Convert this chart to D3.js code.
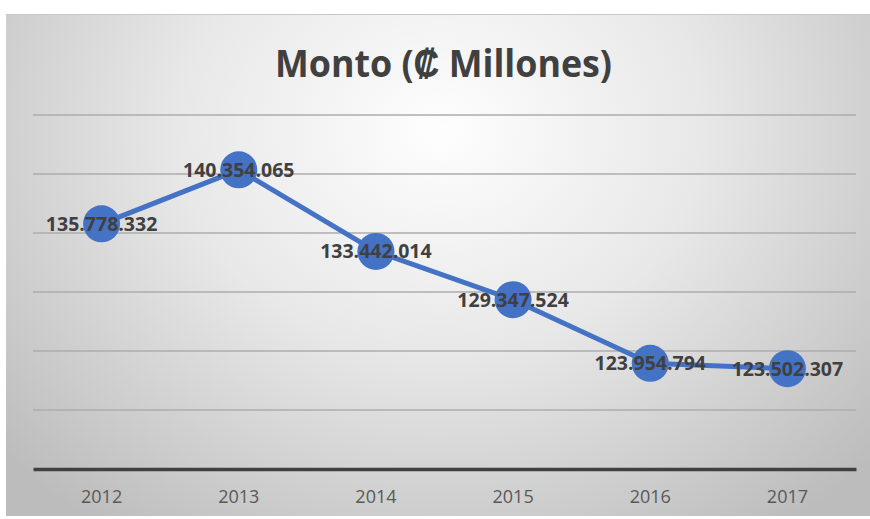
<!DOCTYPE html>
<html><head><meta charset="utf-8">
<script src="https://cdn.jsdelivr.net/npm/d3@7"></script>
<style>html,body{margin:0;padding:0;background:#fff;}svg{display:block;}</style>
</head><body>
<svg id="c" width="870" height="519"></svg>
<script>
const years = ["2012","2013","2014","2015","2016","2017"];
const values = [135.778332, 140.354065, 133.442014, 129.347524, 123.954794, 123.502307];
const valueLabels = ["135.778.332","140.354.065","133.442.014","129.347.524","123.954.794","123.502.307"];
const gridTicks = [115,120,125,130,135,140,145];
const title = "Monto (₡ Millones)";

const svg = d3.select("#c");
const W = 870, H = 519;
const defs = svg.append("defs");
const rg = defs.append("radialGradient").attr("id","bg")
  .attr("gradientUnits","userSpaceOnUse")
  .attr("cx",440).attr("cy",130).attr("r",580)
  .attr("gradientTransform","translate(440,130) scale(1,0.85) translate(-440,-130)");
rg.append("stop").attr("offset","0%").attr("stop-color","#fefefe");
rg.append("stop").attr("offset","45%").attr("stop-color","#e8e8e8");
rg.append("stop").attr("offset","100%").attr("stop-color","#bcbcbc");

svg.append("rect").attr("x",6).attr("y",14).attr("width",W-6).attr("height",502)
  .attr("fill","url(#bg)");
svg.append("line").attr("x1",6).attr("x2",W).attr("y1",14.5).attr("y2",14.5)
  .attr("stroke","#c8c8c8").attr("stroke-width",1);

const plot = {left:33, right:856, top:115, bottom:469};
const x = d3.scaleBand().domain(years).range([plot.left, plot.right]);
const y = d3.scaleLinear().domain([115,145]).range([plot.bottom, plot.top]);

// gridlines
svg.append("g").selectAll("line").data(gridTicks.filter(t=>t>115)).join("line")
  .attr("x1",plot.left).attr("x2",plot.right)
  .attr("y1",d=>y(d)).attr("y2",d=>y(d))
  .attr("stroke","#acacac").attr("stroke-width",1.5);

// x axis
const xAxis = svg.append("g").attr("transform",`translate(0,${y(115)})`)
  .call(d3.axisBottom(x).tickSize(0).tickPadding(21));
xAxis.select(".domain").attr("stroke","#404040").attr("stroke-width",3.5);
xAxis.selectAll("text").attr("font-family","'Open Sans', sans-serif")
  .attr("font-size",18).attr("fill","#595959");

// title
svg.append("text").attr("x",443.5).attr("y",77).attr("text-anchor","middle")
  .attr("font-family","'Open Sans', sans-serif").attr("font-weight","bold")
  .attr("font-size",38).attr("fill","#404040")
  .attr("textLength",337).attr("lengthAdjust","spacingAndGlyphs")
  .text(title);

const pts = years.map((yr,i)=>({yr, v:values[i], lab:valueLabels[i]}));
const cx = d => x(d.yr) + x.bandwidth()/2;

svg.append("path").datum(pts)
  .attr("d", d3.line().x(cx).y(d=>y(d.v)))
  .attr("fill","none").attr("stroke","#4472C4").attr("stroke-width",5)
  .attr("stroke-linejoin","round");

svg.append("g").selectAll("circle").data(pts).join("circle")
  .attr("cx",cx).attr("cy",d=>y(d.v)).attr("r",18.5)
  .attr("fill","#4472C4");

svg.append("g").selectAll("text").data(pts).join("text")
  .attr("x",cx).attr("y",d=>y(d.v)).attr("dy","0.36em")
  .attr("text-anchor","middle")
  .attr("font-family","'Open Sans', sans-serif").attr("font-weight","bold")
  .attr("font-size",19.5).attr("fill","#404040")
  .text(d=>d.lab);
</script>
</body></html>
